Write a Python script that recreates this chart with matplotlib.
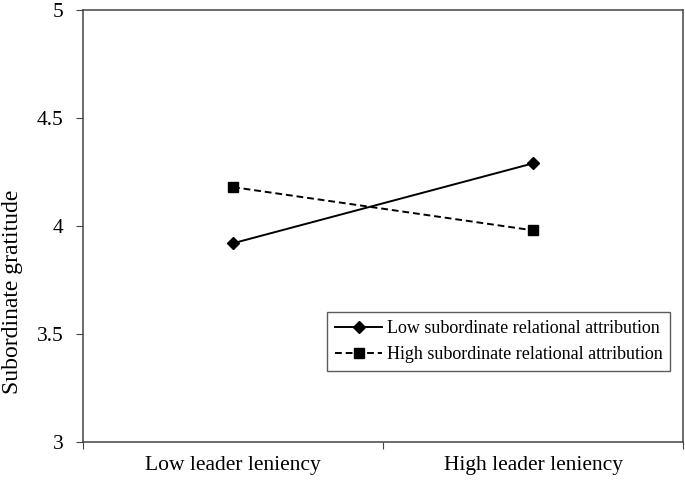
import numpy as np
import matplotlib.pyplot as plt

categories = ["Low leader leniency", "High leader leniency"]
low_attr = [3.92, 4.29]
high_attr = [4.18, 3.98]
series_names = ["Low subordinate relational attribution",
                "High subordinate relational attribution"]
y_ticks = [3, 3.5, 4, 4.5, 5]
y_tick_labels = ["3", "3.5", "4", "4.5", "5"]

plt.rcParams['font.family'] = ['Liberation Serif', 'DejaVu Serif']

fig = plt.figure(figsize=(6.85, 4.82), dpi=100)
ax = fig.add_axes([83 / 685, 1 - 442 / 482, 600 / 685, 432 / 482])

x = np.arange(len(categories)) + 0.5
ax.plot(x, low_attr, '-', color='black', lw=1.4, marker='D', ms=6,
        label=series_names[0])
ax.plot(x, high_attr, '--', color='black', lw=1.4, marker='s', ms=7.5,
        dashes=(3.5, 2), label=series_names[1])

ax.set_xlim(0, len(categories))
ax.set_ylim(3, 5)
ax.set_yticks(y_ticks)
ax.set_yticklabels(y_tick_labels)
ax.set_xticks(np.arange(len(categories) + 1))
ax.set_xticklabels([])
ax.set_xticks(x, minor=True)
ax.set_xticklabels(categories, minor=True)
ax.tick_params(axis='x', which='minor', length=0, pad=10, labelsize=15.5)
ax.tick_params(axis='x', which='major', length=5, direction='out', color='#444444')
ax.tick_params(axis='y', length=5, direction='out', labelsize=15.5, pad=9, color='#444444')
for s in ax.spines.values():
    s.set_color('#444444')
    s.set_linewidth(1.1)

ax.set_ylabel("Subordinate gratitude", fontsize=17)
ax.yaxis.set_label_coords(-0.1, 0.347)

leg = ax.legend(loc='lower right', bbox_to_anchor=(0.979, 0.164), fontsize=13,
                frameon=True, fancybox=False, handlelength=2.6,
                borderpad=0.45, labelspacing=0.5, handletextpad=0.25,
                borderaxespad=0)
leg.get_frame().set_edgecolor('#333333')
leg.get_frame().set_linewidth(1.0)

fig.savefig("out.png", dpi=100)
